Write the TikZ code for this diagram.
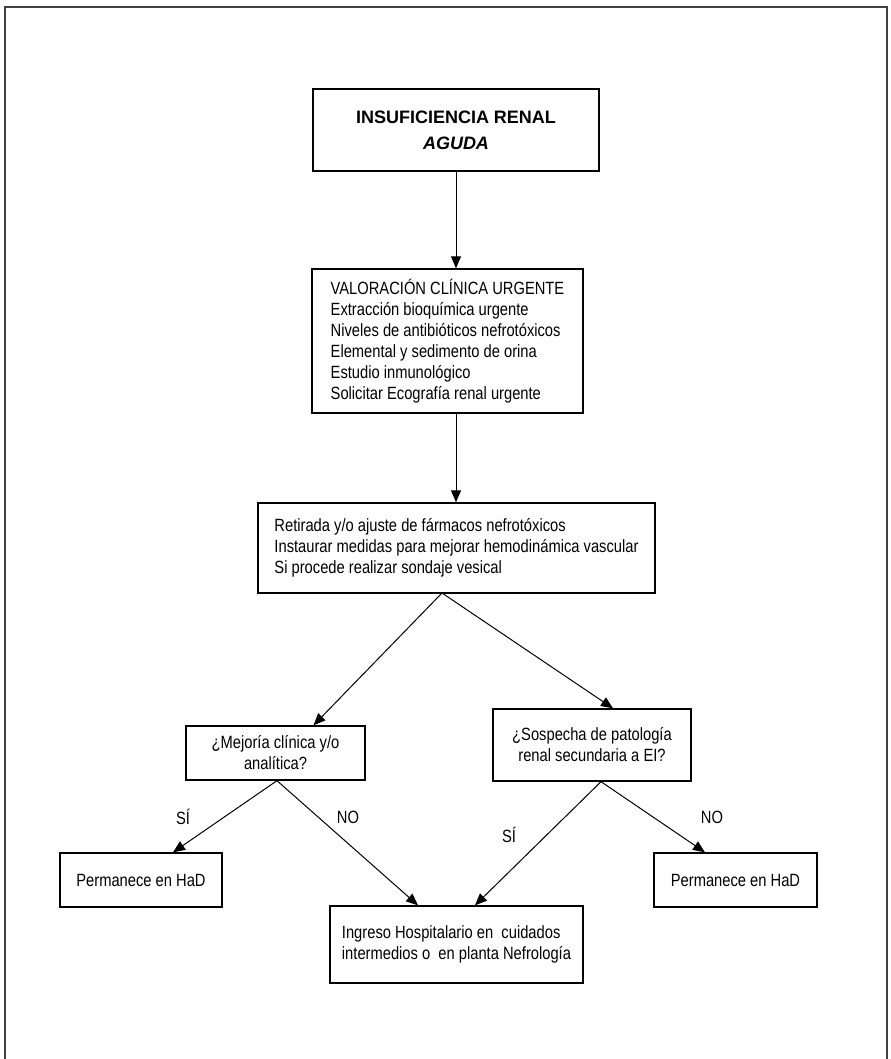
\documentclass[tikz,border=0pt]{standalone}
\usepackage{fontspec}
\setmainfont{Liberation Sans}
\newfontfamily\narrowfont[FakeStretch=0.83]{Liberation Sans}
\usetikzlibrary{arrows.meta,calc}

\begin{document}
\begin{tikzpicture}[x=0.75pt, y=-0.75pt, >={Triangle[length=9pt,width=7.5pt]},
    line width=0.75pt,
    main node/.style={draw, line width=1pt, inner sep=0pt, font=\narrowfont\fontsize{13.3}{15.75}\selectfont},
    list node/.style={main node, align=left},
    question node/.style={main node, align=center},
    title node/.style={main node, align=center, font=\fontsize{13.5}{19.5}\selectfont\bfseries},
    label node/.style={font=\narrowfont\fontsize{13.3}{15}\selectfont}]

  \useasboundingbox (0,0) rectangle (890,1059);
  \draw[line width=1pt, black!75] (5,1059) -- (5,7) -- (887,7) -- (887,1059);

  \node[title node, minimum width=214.5pt, minimum height=61.5pt] (renal) at (456,130)
    {INSUFICIENCIA RENAL\\\textit{AGUDA}};
  \node[list node, minimum width=203.25pt, minimum height=108pt] (valoracion) at (447.5,341)
    {VALORACIÓN CLÍNICA URGENTE\\
     Extracción bioquímica urgente\\
     Niveles de antibióticos nefrotóxicos\\
     Elemental y sedimento de orina\\
     Estudio inmunológico\\
     Solicitar Ecografía renal urgente};
  \node[list node, minimum width=297.75pt, minimum height=67.5pt] (medidas) at (456.5,548)
    {Retirada y/o ajuste de fármacos nefrotóxicos\\
     Instaurar medidas para mejorar hemodinámica vascular\\
     Si procede realizar sondaje vesical};
  \node[question node, minimum width=134.25pt, minimum height=40.5pt] (mejoria) at (275.5,753)
    {¿Mejoría clínica y/o\\analítica?};
  \node[question node, minimum width=148.5pt, minimum height=54pt] (sospecha) at (592,745)
    {¿Sospecha de patología\\renal secundaria a EI?};
  \node[question node, minimum width=121.5pt, minimum height=40.5pt] (had1) at (141,880)
    {Permanece en HaD};
  \node[question node, minimum width=122.25pt, minimum height=40.5pt] (had2) at (735.5,880)
    {Permanece en HaD};
  \node[list node, minimum width=189.75pt, minimum height=57.75pt] (ingreso) at (456.5,944.5)
    {Ingreso Hospitalario en~ cuidados\\
     intermedios o~ en planta Nefrología};

  \node[label node] (si1) at (183,817) {SÍ};
  \node[label node] (no1) at (348,817) {NO};
  \node[label node] (si2) at (509,835) {SÍ};
  \node[label node] (no2) at (712,817) {NO};

  \coordinate (split) at (442,593);

  \draw[->] (renal) -- (valoracion.north -| renal.south);
  \draw[->] (valoracion.south -| renal.south) -- (medidas.north -| renal.south);
  \path[->]
    (split) edge ($(mejoria.north)+(38,0)$)
            edge ($(sospecha.north)+(21,0)$)
    ($(mejoria.south)+(1.5,0)$) edge ($(had1.north)+(32,0)$)
                                edge ($(ingreso.north)+(-38.5,0)$)
    ($(sospecha.south)+(9,0)$) edge ($(ingreso.north)+(18.5,0)$)
                               edge ($(had2.north)+(-30.5,0)$);
\end{tikzpicture}
\end{document}
